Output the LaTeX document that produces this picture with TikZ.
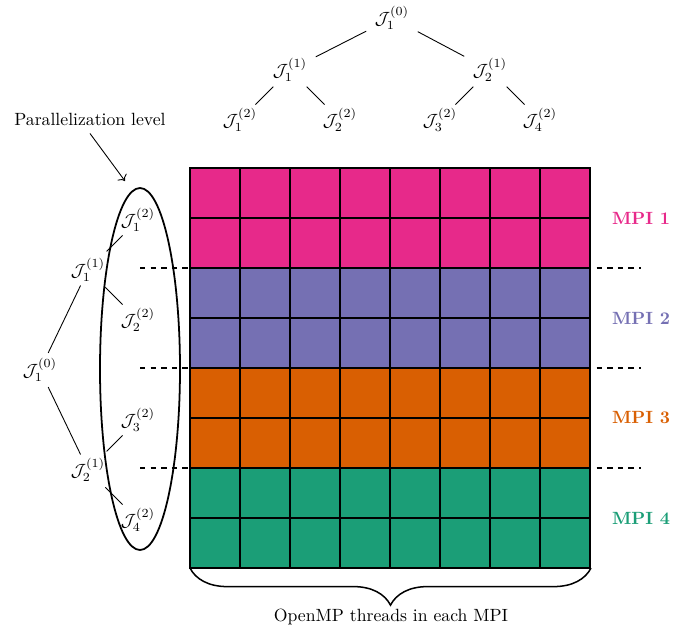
\documentclass[tikz,border=0pt]{standalone}
\usepackage{amsmath}
\usetikzlibrary{decorations.pathreplacing,arrows.meta}
\definecolor{mpia}{HTML}{E7298A}
\definecolor{mpib}{HTML}{7570B3}
\definecolor{mpic}{HTML}{D95F02}
\definecolor{mpid}{HTML}{1B9E77}
\begin{document}
\begin{tikzpicture}[x=0.565pt,y=-0.565pt,
  jn/.style={inner sep=2pt},
  cell/.style={draw=black,line width=0.85pt},
  mpilab/.style={font=\bfseries},
  sep/.style={dashed,line width=0.85pt},
  edge/.style={line width=0.5pt}]
\useasboundingbox (0,0) rectangle (673,633);
% top tree
\node[jn] (t0) at (392,18) {$\mathcal{J}_1^{(0)}$};
\node[jn] (t1) at (290,70) {$\mathcal{J}_1^{(1)}$};
\node[jn] (t2) at (490,70) {$\mathcal{J}_2^{(1)}$};
\node[jn] (t11) at (240,120) {$\mathcal{J}_1^{(2)}$};
\node[jn] (t12) at (340,120) {$\mathcal{J}_2^{(2)}$};
\node[jn] (t13) at (440,120) {$\mathcal{J}_3^{(2)}$};
\node[jn] (t14) at (540,120) {$\mathcal{J}_4^{(2)}$};
\draw[edge,shorten <=3pt,shorten >=3pt] (t0) -- (t1);
\draw[edge,shorten <=3pt,shorten >=3pt] (t0) -- (t2);
\draw[edge,shorten <=1pt] (t1) -- (t11);
\draw[edge,shorten <=1pt] (t1) -- (t12);
\draw[edge,shorten <=1pt] (t2) -- (t13);
\draw[edge,shorten <=1pt] (t2) -- (t14);
% dashed separators
\foreach \yy/\nm in {268/a,368/b,468/c}{
  \coordinate (dl\nm) at (140,\yy);
  \coordinate (dr\nm) at (641,\yy);
  \draw[sep] (dl\nm) -- (dr\nm);
}
% grid
\foreach \r in {0,...,7}{
  \pgfmathtruncatemacro{\grp}{int(\r/2)}
  \ifcase\grp \def\cc{mpia}\or \def\cc{mpib}\or \def\cc{mpic}\or \def\cc{mpid}\fi
  \foreach \c in {0,...,7}{
    \draw[cell,fill=\cc] (190+50*\c,168+50*\r) rectangle ++(50,50);
  }
}
\coordinate (gbl) at (190,568);
\coordinate (gbr) at (591,568);
\node[mpilab,text=mpia] (m1) at (641,218) {MPI 1};
\node[mpilab,text=mpib] (m2) at (641,318) {MPI 2};
\node[mpilab,text=mpic] (m3) at (641,418) {MPI 3};
\node[mpilab,text=mpid] (m4) at (641,518) {MPI 4};
\draw[line width=0.85pt,decorate,decoration={brace,mirror,amplitude=21pt}] (gbl) -- (gbr);
\node (omp) at (391,617) {OpenMP threads in each MPI};
% left tree
\node[jn] (l0) at (40,370) {$\mathcal{J}_1^{(0)}$};
\node[jn] (l1) at (88,270) {$\mathcal{J}_1^{(1)}$};
\node[jn] (l2) at (88,470) {$\mathcal{J}_2^{(1)}$};
\node[jn] (l11) at (138,220) {$\mathcal{J}_1^{(2)}$};
\node[jn] (l12) at (138,320) {$\mathcal{J}_2^{(2)}$};
\node[jn] (l13) at (138,420) {$\mathcal{J}_3^{(2)}$};
\node[jn] (l14) at (138,520) {$\mathcal{J}_4^{(2)}$};
\draw[edge,shorten <=1pt] (l0) -- (l1);
\draw[edge,shorten <=1pt] (l0) -- (l2);
\draw[edge,shorten <=2.5pt] (l1) -- (l11);
\draw[edge,shorten <=1.5pt] (l1) -- (l12);
\draw[edge,shorten <=2.5pt] (l2) -- (l13);
\draw[edge,shorten <=1.5pt] (l2) -- (l14);
\draw[line width=1pt] (140,369) ellipse [x radius=40, y radius=181];
\coordinate (elltop) at (125,181);
\node (par) at (90,119) {Parallelization level};
\draw[-{To[length=3pt]},edge] (par.south) ++(0,2) -- (elltop);
\end{tikzpicture}
\end{document}
